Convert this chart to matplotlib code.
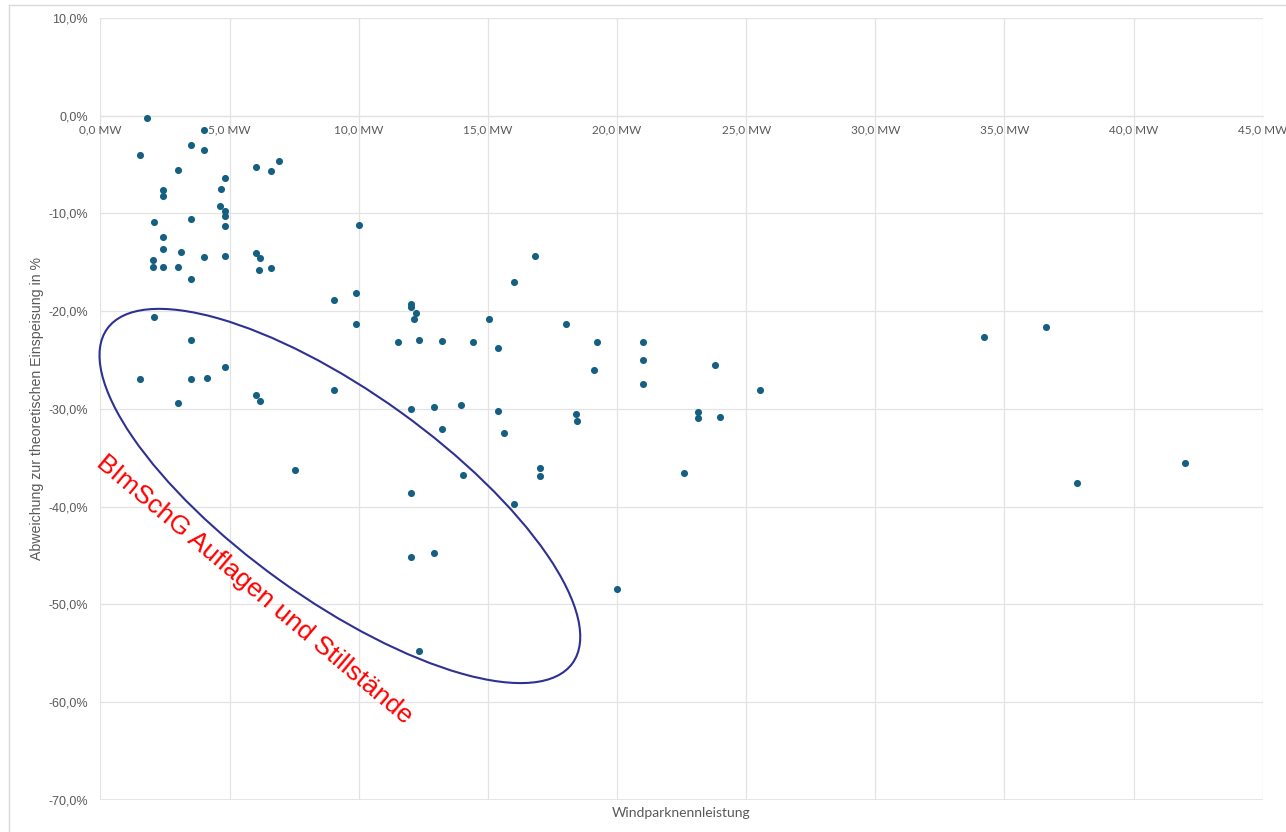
import matplotlib
matplotlib.use("Agg")
import matplotlib.pyplot as plt
from matplotlib.patches import Ellipse
from matplotlib.lines import Line2D
from matplotlib.transforms import ScaledTranslation

# Windparknennleistung in MW
leistung = [
    1.82, 1.52, 4.01, 3.52, 4.01, 3.02, 6.02, 6.62, 6.93, 4.82,
    4.68, 2.43, 2.43, 4.63, 4.82, 4.82, 4.82, 3.52, 2.08, 10.02,
    2.43, 2.43, 3.10, 2.02, 2.02, 2.43, 3.02, 4.02, 4.82, 3.52,
    6.02, 6.18, 6.13, 6.62,
    9.03, 9.90, 9.90, 2.08, 3.52, 1.52, 3.52, 4.11, 4.82, 3.02,
    6.02, 6.18, 9.03, 7.53, 16.82, 16.02, 12.02, 12.02, 12.23, 12.13,
    15.03, 11.51, 12.32, 13.21, 14.41, 15.39, 18.01, 19.22, 19.10, 12.02,
    12.93, 13.97, 15.39, 18.41, 18.47, 13.21, 15.62, 17.03, 17.03, 14.02,
    12.02, 16.01, 12.02, 12.93, 20.01, 12.32, 21.01, 21.01, 21.01, 23.81,
    25.52, 23.12, 23.12, 24.00, 22.61, 34.2, 36.6, 37.8, 42.0,
]
# Abweichung zur theoretischen Einspeisung in %
abweichung = [
    -0.2, -4.0, -1.5, -3.0, -3.5, -5.6, -5.2, -5.7, -4.6, -6.4,
    -7.5, -7.6, -8.2, -9.2, -9.7, -10.3, -11.3, -10.6, -10.9, -11.2,
    -12.4, -13.6, -13.9, -14.8, -15.5, -15.5, -15.5, -14.5, -14.3, -16.7,
    -14.0, -14.6, -15.8, -15.6,
    -18.9, -18.1, -21.3, -20.6, -22.9, -26.9, -26.9, -26.8, -25.7, -29.4,
    -28.6, -29.2, -28.1, -36.2, -14.3, -17.0, -19.3, -19.6, -20.2, -20.8,
    -20.8, -23.1, -22.9, -23.0, -23.2, -23.8, -21.3, -23.1, -26.0, -30.0,
    -29.8, -29.6, -30.2, -30.5, -31.2, -32.0, -32.5, -36.0, -36.9, -36.8,
    -38.6, -39.7, -45.1, -44.7, -48.4, -54.8, -23.1, -25.0, -27.4, -25.5,
    -28.1, -30.3, -30.9, -30.8, -36.6, -22.6, -21.6, -37.6, -35.5,
]

x_ticks = [0, 5, 10, 15, 20, 25, 30, 35, 40, 45]
y_ticks = [10, 0, -10, -20, -30, -40, -50, -60, -70]

grau = "#595959"
gitter = "#E3E3E3"

fig = plt.figure(figsize=(12.86, 8.32), dpi=100)
ax = fig.add_axes([0.0781, 0.0385, 0.9038, 0.9399])

# x-Achse schneidet bei 0 % (vor den Tick-Labels setzen, sonst werden sie zurückgesetzt)
for side in ["top", "right", "left"]:
    ax.spines[side].set_visible(False)
ax.spines["bottom"].set_position(("data", 0))
ax.spines["bottom"].set_color(gitter)
ax.spines["bottom"].set_linewidth(0.9)

ax.scatter(leistung, abweichung, s=26, color="#156082", zorder=3, linewidths=0)

ax.set_xlim(0, 45)
ax.set_ylim(-70, 10)
ax.set_xticks(x_ticks)
ax.set_yticks(y_ticks)
ax.set_xticklabels([f"{v:.1f}".replace(".", ",") + " MW" for v in x_ticks])
ax.set_yticklabels([f"{v:.1f}".replace(".", ",") + "%" for v in y_ticks])
for lbl in ax.get_xticklabels():
    lbl.set_fontfamily("Lato")
for lbl in ax.get_yticklabels():
    lbl.set_fontfamily("Liberation Sans")
ax.tick_params(axis="both", length=0, labelcolor=grau)
ax.tick_params(axis="x", pad=6, labelsize=8.5)
ax.tick_params(axis="y", pad=9, labelsize=9)

ax.grid(True, color=gitter, linewidth=0.9, zorder=0)
ax.set_axisbelow(True)
ax.axhline(-70, color=gitter, linewidth=1.2, zorder=0)
ax.axvline(0, color=gitter, linewidth=1.2, zorder=0)

ax.set_ylabel("Abweichung zur theoretischen Einspeisung in %",
              fontfamily="Liberation Sans", fontsize=10.2, color=grau)
ax.yaxis.set_label_coords(-0.0486, 0.5)
fig.text(0.5296, 0.0228, "Windparknennleistung", fontfamily="Lato",
         fontsize=10, color=grau, ha="center", va="center")

# Ellipse um die Gruppe mit Auflagen (Größe in Zoll, Mitte in Daten)
trans = fig.dpi_scale_trans + ScaledTranslation(9.27, -38.9, ax.transData)
ell = Ellipse((0, 0), 5.73, 2.07, angle=-35.7, transform=trans,
              fill=False, edgecolor="#2E3192", linewidth=1.5, zorder=4,
              clip_on=False)
ax.add_patch(ell)

ax.text(5.98, -48.5, "BImSchG Auflagen und Stillstände", color="red",
        fontfamily="Liberation Sans", fontsize=19, rotation=-40,
        rotation_mode="anchor", ha="center", va="center", zorder=5)

# heller Rahmen des Diagrammbereichs
fig.add_artist(Line2D([9 / 1286, 9 / 1286], [0, 1 - 5 / 832],
                      transform=fig.transFigure, color="#D9D9D9", linewidth=1))
fig.add_artist(Line2D([9 / 1286, 1], [1 - 5 / 832, 1 - 5 / 832],
                      transform=fig.transFigure, color="#D9D9D9", linewidth=1))

fig.savefig("out.png", dpi=100)
